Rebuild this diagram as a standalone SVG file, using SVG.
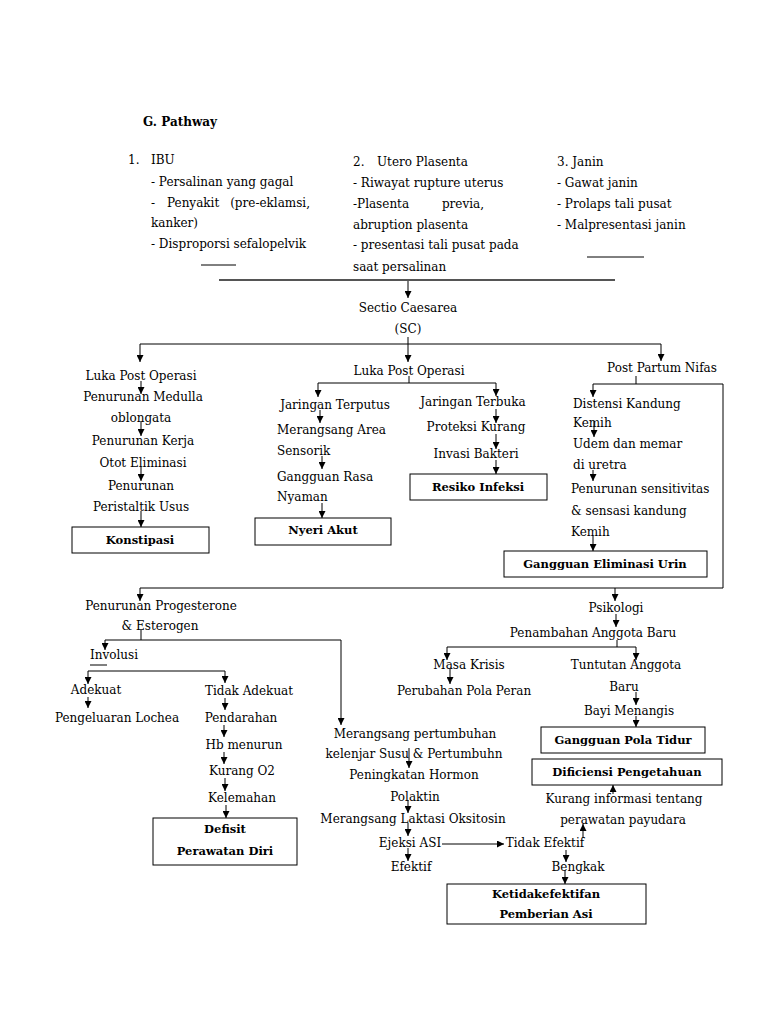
<svg xmlns="http://www.w3.org/2000/svg" width="768" height="1024" viewBox="0 0 768 1024">
<defs>
<marker id="ah" markerUnits="userSpaceOnUse" markerWidth="7" markerHeight="7" refX="7" refY="3.5" orient="auto"><path d="M0,0 L7,3.5 L0,7 z" fill="#000"/></marker>
<style>
.t{font-family:"DejaVu Serif","Liberation Serif",serif;font-size:12px;fill:#000}
.m{text-anchor:middle}
.b{font-family:"DejaVu Serif","Liberation Serif",serif;font-size:11.5px;font-weight:bold;fill:#000;text-anchor:middle}
.box{fill:#fff;stroke:#000;stroke-width:1}
.c line,.c polyline{stroke:#000;stroke-width:1;fill:none}
.a{marker-end:url(#ah)}
</style>
</defs>
<rect width="768" height="1024" fill="#fff"/>

<g id="header">
<text class="b" x="143" y="126" style="text-anchor:start;font-size:12px">G. Pathway</text>
<text class="t" x="128" y="164">1.</text><text class="t" x="151" y="164">IBU</text>
<text class="t" x="151" y="186">- Persalinan yang gagal</text>
<text class="t" x="151" y="207">-</text><text class="t" x="167" y="207">Penyakit</text><text class="t" x="310" y="207" style="text-anchor:end">(pre-eklamsi,</text>
<text class="t" x="151" y="227">kanker)</text>
<text class="t" x="151" y="248">- Disproporsi sefalopelvik</text>
<text class="t" x="353" y="166">2.</text><text class="t" x="377" y="166">Utero Plasenta</text>
<text class="t" x="353" y="187">- Riwayat rupture uterus</text>
<text class="t" x="353" y="208">-Plasenta</text><text class="t" x="484" y="208" style="text-anchor:end">previa,</text>
<text class="t" x="353" y="229">abruption plasenta</text>
<text class="t" x="353" y="249">- presentasi tali pusat pada</text>
<text class="t" x="353" y="271">saat persalinan</text>
<text class="t" x="557" y="166">3. Janin</text>
<text class="t" x="557" y="187">- Gawat janin</text>
<text class="t" x="557" y="208">- Prolaps tali pusat</text>
<text class="t" x="557" y="229">- Malpresentasi janin</text>
</g>

<g class="c" id="connectors">
<line x1="201" y1="265" x2="236" y2="265"/>
<line x1="587" y1="257" x2="644" y2="257"/>
<line x1="219" y1="280" x2="615" y2="280" style="stroke:#555;stroke-width:2"/>
<line class="a" x1="408" y1="281" x2="408" y2="298"/>
<line class="a" x1="408" y1="337" x2="408" y2="362"/>
<line x1="140" y1="344" x2="661" y2="344"/>
<line class="a" x1="140" y1="344" x2="140" y2="362"/>
<line class="a" x1="661" y1="344" x2="661" y2="361"/>
<!-- left column -->
<line class="a" x1="141" y1="381" x2="141" y2="394"/>
<line class="a" x1="141" y1="421" x2="141" y2="436"/>
<line class="a" x1="141" y1="467" x2="141" y2="481"/>
<line class="a" x1="141" y1="511" x2="141" y2="527"/>
<!-- middle -->
<line x1="409" y1="376" x2="409" y2="383"/>
<line x1="318" y1="383" x2="496" y2="383"/>
<line class="a" x1="318" y1="383" x2="318" y2="397"/>
<line class="a" x1="496" y1="383" x2="496" y2="396"/>
<line class="a" x1="320" y1="410" x2="320" y2="423"/>
<line class="a" x1="322" y1="456" x2="322" y2="469"/>
<line class="a" x1="322" y1="503" x2="322" y2="518"/>
<line class="a" x1="496" y1="409" x2="496" y2="423"/>
<line class="a" x1="496" y1="434" x2="496" y2="449"/>
<line class="a" x1="496" y1="460" x2="496" y2="474"/>
<!-- right -->
<line x1="636" y1="376" x2="636" y2="384"/>
<polyline points="593,384 723,384 723,588 140,588"/>
<line class="a" x1="593" y1="384" x2="593" y2="397"/>
<line class="a" x1="594" y1="421" x2="594" y2="437"/>
<line class="a" x1="593" y1="470" x2="593" y2="481"/>
<line class="a" x1="593" y1="536" x2="593" y2="551"/>
<line class="a" x1="140" y1="588" x2="140" y2="601"/>
<line class="a" x1="615" y1="588" x2="615" y2="601"/>
<!-- bottom left -->
<line x1="141" y1="630" x2="141" y2="640"/>
<line x1="105" y1="640" x2="341" y2="640"/>
<line class="a" x1="105" y1="640" x2="105" y2="650"/>
<line class="a" x1="341" y1="640" x2="341" y2="725"/>
<line x1="90" y1="665" x2="107" y2="665"/>
<line x1="88" y1="671" x2="225" y2="671"/>
<line class="a" x1="88" y1="671" x2="88" y2="684"/>
<line class="a" x1="225" y1="671" x2="225" y2="683"/>
<line class="a" x1="88" y1="697" x2="88" y2="708"/>
<line class="a" x1="225" y1="698" x2="225" y2="710"/>
<line class="a" x1="224" y1="725" x2="224" y2="737"/>
<line class="a" x1="224" y1="752" x2="224" y2="764"/>
<line class="a" x1="225" y1="778" x2="225" y2="791"/>
<line class="a" x1="226" y1="805" x2="226" y2="818"/>
<!-- middle bottom -->
<line class="a" x1="409" y1="748" x2="409" y2="768"/>
<line class="a" x1="408" y1="800" x2="408" y2="813"/>
<line class="a" x1="408" y1="823" x2="408" y2="836"/>
<line class="a" x1="442" y1="844" x2="504" y2="844"/>
<line class="a" x1="408" y1="848" x2="408" y2="861"/>
<line class="a" x1="566" y1="850" x2="566" y2="862"/>
<line class="a" x1="565" y1="870" x2="565" y2="884"/>
<line class="a" x1="583" y1="838" x2="583" y2="824"/>
<line class="a" x1="613" y1="794" x2="613" y2="785"/>
<!-- psikologi -->
<line class="a" x1="616" y1="614" x2="616" y2="627"/>
<line x1="617" y1="640" x2="617" y2="647"/>
<line x1="447" y1="647" x2="636" y2="647"/>
<line class="a" x1="447" y1="647" x2="447" y2="660"/>
<line class="a" x1="636" y1="647" x2="636" y2="660"/>
<line class="a" x1="450" y1="668" x2="450" y2="684"/>
<line class="a" x1="636" y1="692" x2="636" y2="705"/>
<line class="a" x1="636" y1="716" x2="636" y2="727"/>
</g>

<g id="sc"><text class="t m" x="408" y="312">Sectio Caesarea</text><text class="t m" x="408" y="333">(SC)</text></g>

<g id="left-col">
<text class="t m" x="141" y="380">Luka Post Operasi</text>
<text class="t m" x="143" y="401">Penurunan Medulla</text>
<text class="t m" x="141" y="422">oblongata</text>
<text class="t m" x="143" y="445">Penurunan Kerja</text>
<text class="t m" x="143" y="467">Otot Eliminasi</text>
<text class="t m" x="141" y="490">Penurunan</text>
<text class="t m" x="141" y="511">Peristaltik Usus</text>
</g>
<g id="konstipasi"><rect class="box" x="72" y="527" width="137" height="26"/><text class="b" x="140" y="544">Konstipasi</text></g>

<g id="mid-col">
<text class="t m" x="409" y="375">Luka Post Operasi</text>
<text class="t m" x="335" y="409">Jaringan Terputus</text>
<text class="t" x="277" y="434">Merangsang Area</text>
<text class="t" x="277" y="455">Sensorik</text>
<text class="t" x="277" y="481">Gangguan Rasa</text>
<text class="t" x="277" y="501">Nyaman</text>
<text class="t m" x="473" y="406">Jaringan Terbuka</text>
<text class="t m" x="476" y="431">Proteksi Kurang</text>
<text class="t m" x="476" y="458">Invasi Bakteri</text>
</g>
<g id="nyeri"><rect class="box" x="255" y="518" width="136" height="27"/><text class="b" x="323" y="534">Nyeri Akut</text></g>
<g id="infeksi"><rect class="box" x="410" y="474" width="137" height="26"/><text class="b" x="478" y="491">Resiko Infeksi</text></g>

<g id="right-col">
<text class="t m" x="662" y="372">Post Partum Nifas</text>
<text class="t" x="573" y="408">Distensi Kandung</text>
<text class="t" x="573" y="427">Kemih</text>
<text class="t" x="573" y="448">Udem dan memar</text>
<text class="t" x="573" y="469">di uretra</text>
<text class="t" x="571" y="493">Penurunan sensitivitas</text>
<text class="t" x="571" y="515">&amp; sensasi kandung</text>
<text class="t" x="571" y="536">Kemih</text>
</g>
<g id="eliminasi"><rect class="box" x="504" y="551" width="203" height="26"/><text class="b" x="605" y="568">Gangguan Eliminasi Urin</text></g>

<g id="hormon">
<text class="t m" x="161" y="610">Penurunan Progesterone</text>
<text class="t m" x="160" y="630">&amp; Esterogen</text>
<text class="t" x="90" y="659">Involusi</text>
<text class="t m" x="96" y="694">Adekuat</text>
<text class="t m" x="117" y="722">Pengeluaran Lochea</text>
<text class="t m" x="249" y="695">Tidak Adekuat</text>
<text class="t m" x="241" y="722">Pendarahan</text>
<text class="t m" x="244" y="749">Hb menurun</text>
<text class="t m" x="242" y="775">Kurang O2</text>
<text class="t m" x="242" y="802">Kelemahan</text>
</g>
<g id="defisit"><rect class="box" x="153" y="818" width="144" height="47"/><text class="b" x="225" y="833">Defisit</text><text class="b" x="225" y="855">Perawatan Diri</text></g>

<g id="laktasi">
<text class="t m" x="415" y="738">Merangsang pertumbuhan</text>
<text class="t m" x="414" y="758">kelenjar Susu &amp; Pertumbuhn</text>
<text class="t m" x="414" y="779">Peningkatan Hormon</text>
<text class="t m" x="415" y="801">Polaktin</text>
<text class="t m" x="413" y="823">Merangsang Laktasi Oksitosin</text>
<text class="t m" x="410" y="847">Ejeksi ASI</text>
<text class="t m" x="545" y="847">Tidak Efektif</text>
<text class="t m" x="411" y="871">Efektif</text>
<text class="t m" x="578" y="871">Bengkak</text>
<text class="t m" x="624" y="803">Kurang informasi tentang</text>
<text class="t m" x="623" y="824">perawatan payudara</text>
</g>
<g id="ketidak"><rect class="box" x="447" y="884" width="199" height="40"/><text class="b" x="546" y="898">Ketidakefektifan</text><text class="b" x="546" y="918">Pemberian Asi</text></g>

<g id="psikologi">
<text class="t m" x="616" y="612">Psikologi</text>
<text class="t m" x="593" y="637">Penambahan Anggota Baru</text>
<text class="t m" x="469" y="669">Masa Krisis</text>
<text class="t m" x="464" y="695">Perubahan Pola Peran</text>
<text class="t m" x="626" y="669">Tuntutan Anggota</text>
<text class="t m" x="624" y="691">Baru</text>
<text class="t m" x="629" y="715">Bayi Menangis</text>
</g>
<g id="polatidur"><rect class="box" x="541" y="727" width="164" height="26"/><text class="b" x="623" y="744">Gangguan Pola Tidur</text></g>
<g id="dificiensi"><rect class="box" x="532" y="759" width="190" height="26"/><text class="b" x="627" y="776">Dificiensi Pengetahuan</text></g>
</svg>
